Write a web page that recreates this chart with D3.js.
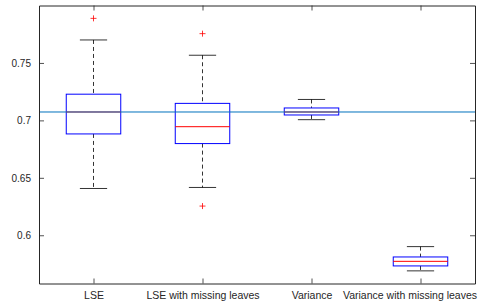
<!DOCTYPE html>
<html>
<head>
<meta charset="utf-8">
<script src="https://cdn.jsdelivr.net/npm/d3@7"></script>
<style>
  body { margin: 0; background: #fff; }
  text { font-family: "Liberation Sans", Arial, sans-serif; }
</style>
</head>
<body>
<div id="chart"></div>
<script>
"use strict";

// categories and box statistics
var categories = ["LSE", "LSE with missing leaves", "Variance", "Variance with missing leaves"];
var lowerWhisker = [0.6407, 0.6416, 0.7006, 0.5690];
var q1           = [0.6882, 0.6798, 0.7047, 0.5733];
var medians      = [0.7073, 0.6945, 0.7073, 0.5773];
var q3           = [0.7228, 0.7148, 0.7108, 0.5811];
var upperWhisker = [0.7700, 0.7567, 0.7182, 0.5901];
var outliers     = [[0.7888], [0.7755, 0.6254], [], []];
var refLine = 0.7073;
var yTicks = [0.6, 0.65, 0.7, 0.75];

var width = 478, height = 308;
var plotLeft = 39, plotRight = 475, plotTop = 5.5, plotBottom = 283.5;

var svg = d3.select("#chart").append("svg")
    .attr("width", width)
    .attr("height", height);

var x = d3.scaleLinear().domain([0.5, 4.5]).range([plotLeft, plotRight]);
var y = d3.scaleLinear().domain([0.558, 0.8]).range([plotBottom, plotTop]);
var unit = x(1) - x(0);

var data = categories.map(function(c, i){
  return {name: c, i: i + 1, lw: lowerWhisker[i], q1: q1[i], med: medians[i],
          q3: q3[i], uw: upperWhisker[i], out: outliers[i]};
});

var g = svg.append("g");

var box = g.selectAll("g.box").data(data).enter().append("g").attr("class", "box");

// whiskers (dashed)
box.append("line")
    .attr("x1", function(d){ return x(d.i); })
    .attr("x2", function(d){ return x(d.i); })
    .attr("y1", function(d){ return y(d.uw); })
    .attr("y2", function(d){ return y(d.q3); })
    .attr("stroke", "#000").attr("stroke-width", 0.8)
    .attr("stroke-dasharray", "4,3");
box.append("line")
    .attr("x1", function(d){ return x(d.i); })
    .attr("x2", function(d){ return x(d.i); })
    .attr("y1", function(d){ return y(d.q1); })
    .attr("y2", function(d){ return y(d.lw); })
    .attr("stroke", "#000").attr("stroke-width", 0.8)
    .attr("stroke-dasharray", "4,3");

// caps
["uw", "lw"].forEach(function(k){
  box.append("line")
      .attr("x1", function(d){ return x(d.i) - unit / 8; })
      .attr("x2", function(d){ return x(d.i) + unit / 8; })
      .attr("y1", function(d){ return y(d[k]); })
      .attr("y2", function(d){ return y(d[k]); })
      .attr("stroke", "#000").attr("stroke-width", 0.8);
});

// box
box.append("rect")
    .attr("x", function(d){ return x(d.i) - unit / 4; })
    .attr("y", function(d){ return y(d.q3); })
    .attr("width", unit / 2)
    .attr("height", function(d){ return y(d.q1) - y(d.q3); })
    .attr("fill", "none")
    .attr("stroke", "#0000ff").attr("stroke-width", 1);

// median
box.append("line")
    .attr("x1", function(d){ return x(d.i) - unit / 4; })
    .attr("x2", function(d){ return x(d.i) + unit / 4; })
    .attr("y1", function(d){ return y(d.med); })
    .attr("y2", function(d){ return y(d.med); })
    .attr("stroke", "#ff0000").attr("stroke-width", 1);

// outliers
box.each(function(d){
  d3.select(this).selectAll("path.out").data(d.out).enter().append("path")
      .attr("class", "out")
      .attr("d", function(v){
        var cx = x(d.i), cy = y(v), s = 3;
        return "M" + (cx - s) + "," + cy + "H" + (cx + s) + "M" + cx + "," + (cy - s) + "V" + (cy + s);
      })
      .attr("stroke", "#ff0000").attr("stroke-width", 0.8);
});

// reference line
g.append("line")
    .attr("x1", plotLeft).attr("x2", plotRight)
    .attr("y1", y(refLine)).attr("y2", y(refLine))
    .attr("stroke", "#0072bd").attr("stroke-width", 1);

// axes
var axisColor = "#262626";
var yAxis = d3.axisLeft(y).tickValues(yTicks).tickSizeInner(-5).tickSizeOuter(0)
    .tickPadding(8).tickFormat(function(d){ return String(+d.toFixed(2)); });
var yAxisR = d3.axisRight(y).tickValues(yTicks).tickSizeInner(-5).tickSizeOuter(0).tickFormat("");
var xAxis = d3.axisBottom(x).tickValues([1, 2, 3, 4]).tickSizeInner(-5).tickSizeOuter(0)
    .tickPadding(8).tickFormat(function(d){ return categories[d - 1]; });
var xAxisT = d3.axisTop(x).tickValues([1, 2, 3, 4]).tickSizeInner(-5).tickSizeOuter(0).tickFormat("");

function style(sel, fs){
  sel.selectAll("path").attr("stroke", axisColor);
  sel.selectAll("line").attr("stroke", axisColor).attr("stroke-width", 0.8);
  sel.selectAll("text").attr("fill", axisColor).style("font-size", fs + "px")
      .style("font-family", "'Liberation Sans', Arial, sans-serif");
}

svg.append("g").attr("transform", "translate(" + plotLeft + ",0)").call(yAxis).call(style, 10);
svg.append("g").attr("transform", "translate(" + plotRight + ",0)").call(yAxisR).call(style, 10);
var xg = svg.append("g").attr("transform", "translate(0," + plotBottom + ")").call(xAxis).call(style, 10.5);
svg.append("g").attr("transform", "translate(0," + plotTop + ")").call(xAxisT).call(style, 10);

// keep the x labels inside the figure, like MATLAB does
xg.selectAll(".tick text").each(function(){
  var t = d3.select(this);
  var bb = this.getBBox();
  var tx = +d3.select(this.parentNode).attr("transform").match(/translate\(([-\d.]+)/)[1];
  var over = tx + bb.x + bb.width - (width - 1);
  if (over > 0) t.attr("x", -over);
});
</script>
</body>
</html>
